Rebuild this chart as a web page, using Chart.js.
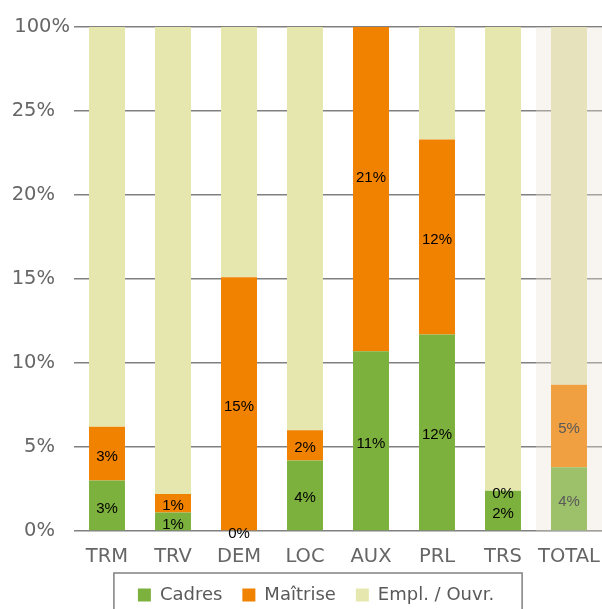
<!DOCTYPE html>
<html>
<head>
<meta charset="utf-8">
<script src="https://cdn.jsdelivr.net/npm/chart.js@4.4.1/dist/chart.umd.min.js"></script>
<style>
  html, body { margin: 0; padding: 0; background: #fff; }
  #wrap { width: 602px; height: 609px; }
</style>
</head>
<body>
<div id="wrap"><canvas id="chart" width="602" height="609"></canvas></div>
<script>
const categories = ['TRM', 'TRV', 'DEM', 'LOC', 'AUX', 'PRL', 'TRS', 'TOTAL'];
const cadres = [3.0, 1.1, 0, 4.2, 10.7, 11.7, 2.4, 3.8];
const maitrise = [3.2, 1.1, 15.1, 1.8, 21.0, 11.6, 0, 4.9];
const emplOuvr = [93.8, 97.8, 84.9, 94.0, 68.3, 76.7, 97.6, 91.3];
const yTickValues = [0, 5, 10, 15, 20, 25, 30];
const yTickLabels = ['0%', '5%', '10%', '15%', '20%', '25%', '100%'];

const FONT = 'DejaVu Sans';
const totalIndex = categories.indexOf('TOTAL');

function pickColor(base, total) {
  return ctx => (ctx.dataIndex === totalIndex ? total : base);
}

// shaded column behind the TOTAL bar
const totalBackground = {
  id: 'totalBackground',
  beforeDatasetsDraw(chart) {
    const { ctx, chartArea, scales } = chart;
    const w = scales.x.getPixelForValue(1) - scales.x.getPixelForValue(0);
    const cx = scales.x.getPixelForValue(totalIndex);
    ctx.save();
    ctx.fillStyle = 'rgba(235, 226, 212, 0.35)';
    ctx.fillRect(cx - w / 2, chartArea.top, w, chartArea.bottom - chartArea.top);
    ctx.restore();
  }
};

// percentage labels in the middle of each segment
const segmentLabels = {
  id: 'segmentLabels',
  afterDatasetsDraw(chart) {
    const { ctx } = chart;
    ctx.save();
    ctx.font = '15px "Liberation Sans"';
    ctx.textAlign = 'center';
    ctx.textBaseline = 'middle';
    [0, 1].forEach(di => {
      const meta = chart.getDatasetMeta(di);
      const values = chart.data.datasets[di].data;
      meta.data.forEach((bar, i) => {
        const { x, y, base } = bar.getProps(['x', 'y', 'base'], true);
        ctx.fillStyle = i === totalIndex ? '#595959' : '#000';
        ctx.fillText(Math.round(values[i]) + '%', x, (y + base) / 2 + 3);
      });
    });
    ctx.restore();
  }
};

// top tick label sits a bit further right in the original
const topTick = {
  id: 'topTick',
  afterDraw(chart) {
    const { ctx, scales } = chart;
    const last = yTickValues.length - 1;
    ctx.save();
    ctx.font = '19.5px "' + FONT + '"';
    ctx.fillStyle = '#666';
    ctx.textAlign = 'right';
    ctx.textBaseline = 'middle';
    ctx.fillText(yTickLabels[last], 70, scales.y.getPixelForValue(yTickValues[last]));
    ctx.restore();
  }
};

// fixed legend height + frame round the legend
const legendFrame = {
  id: 'legendFrame',
  beforeLayout(chart) {
    const lg = chart.legend;
    if (lg && !lg._fixed) {
      const fit = lg.fit;
      lg.fit = function () {
        fit.call(this);
        this.height = 43;
      };
      lg._fixed = true;
    }
  },
  afterDraw(chart) {
    const lg = chart.legend;
    const boxes = lg.legendHitBoxes;
    if (!boxes || !boxes.length) return;
    const first = boxes[0];
    const last = boxes[boxes.length - 1];
    const left = first.left - 24;
    const right = last.left + last.width + 28;
    const top = lg.top + 7;
    const { ctx } = chart;
    ctx.save();
    ctx.strokeStyle = '#808080';
    ctx.lineWidth = 1.5;
    ctx.strokeRect(left, top, right - left, 80);
    ctx.restore();
  }
};

new Chart(document.getElementById('chart'), {
  type: 'bar',
  data: {
    labels: categories,
    datasets: [
      {
        label: 'Cadres',
        data: cadres,
        backgroundColor: pickColor('#7db13e', '#9cc16a'),
        clip: 0
      },
      {
        label: 'Maîtrise',
        data: maitrise,
        backgroundColor: pickColor('#f08200', '#f0a040'),
        clip: 0
      },
      {
        label: 'Empl. / Ouvr.',
        data: emplOuvr,
        backgroundColor: pickColor('#e6e7ae', '#e6e3bc'),
        clip: 0
      }
    ]
  },
  options: {
    responsive: false,
    animation: false,
    devicePixelRatio: 1,
    layout: { padding: { left: 30, top: 27, right: 0, bottom: 0 } },
    datasets: {
      bar: { categoryPercentage: 1, barPercentage: 0.545, borderWidth: 0 }
    },
    scales: {
      x: {
        stacked: true,
        grid: { display: false, drawTicks: false },
        border: { display: false },
        ticks: {
          padding: 14,
          color: '#666',
          font: { family: FONT, size: 19.5 },
          maxRotation: 0,
          autoSkip: false
        },
        afterFit(scale) {
          scale.height = 35;
          scale.paddingLeft = 0;
          scale.paddingRight = 0;
          scale._computeLabelArea = () => null;
        }
      },
      y: {
        stacked: true,
        min: 0,
        max: 30,
        afterBuildTicks(scale) {
          scale.ticks = yTickValues.map(v => ({ value: v }));
        },
        afterFit(scale) {
          scale.width = 44;
          scale.paddingTop = 0;
          scale.paddingBottom = 0;
          scale._computeLabelArea = () => null;
        },
        grid: { color: '#808080', lineWidth: 1.5, drawTicks: false },
        border: { display: false },
        ticks: {
          padding: 19,
          color: '#666',
          font: { family: FONT, size: 19.5 },
          callback: (value, index) => (index === yTickValues.length - 1 ? '' : yTickLabels[index])
        }
      }
    },
    plugins: {
      legend: {
        position: 'bottom',
        labels: {
          boxWidth: 13,
          boxHeight: 13,
          padding: 20,
          color: '#595959',
          font: { family: FONT, size: 18 }
        }
      },
      tooltip: { enabled: false }
    }
  },
  plugins: [totalBackground, segmentLabels, topTick, legendFrame]
});
</script>
</body>
</html>
